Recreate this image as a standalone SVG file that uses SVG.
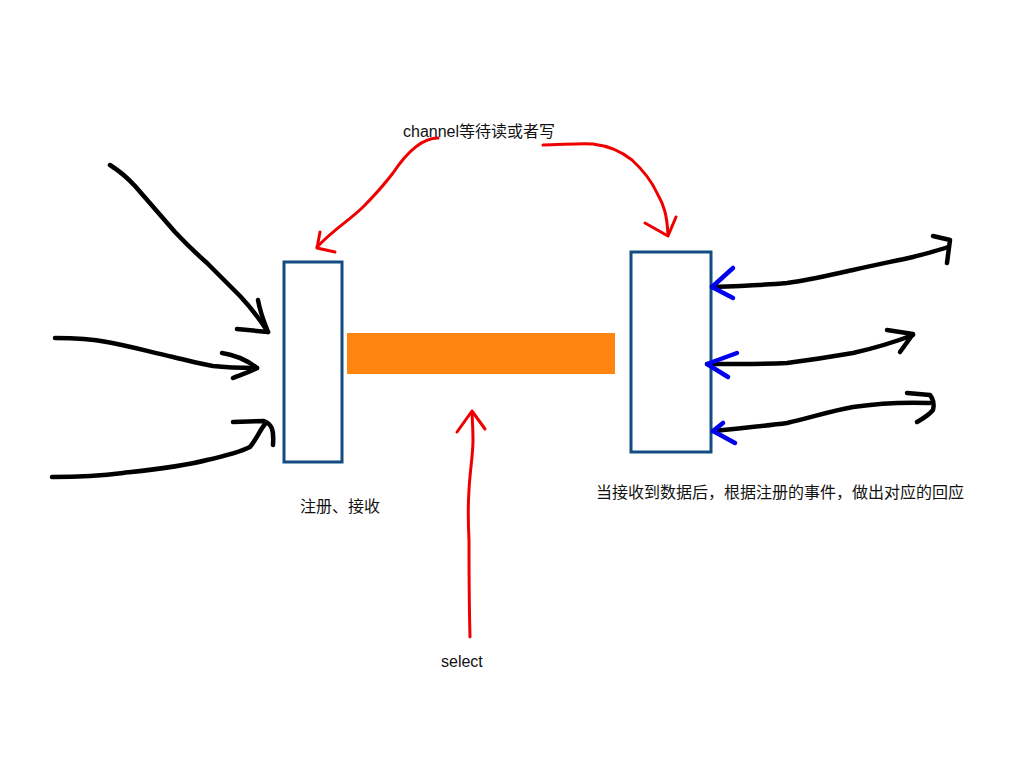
<svg xmlns="http://www.w3.org/2000/svg" width="1024" height="768" viewBox="0 0 1024 768">
<style>
.box{fill:#fff;stroke:#124c82;stroke-width:3}
.bar{fill:#ff8410}
.blk{fill:none;stroke:#000;stroke-width:4.5;stroke-linecap:round;stroke-linejoin:round}
.red{fill:none;stroke:#ee0000;stroke-width:3;stroke-linecap:round;stroke-linejoin:round}
.blu{fill:none;stroke:#0000ee;stroke-width:4.5;stroke-linecap:round;stroke-linejoin:round}
text{font-family:"Liberation Sans","Noto Sans CJK SC",sans-serif;font-size:16px;fill:#111}
</style>
<rect width="1024" height="768" fill="#fff"/>
<g id="left-box"><rect class="box" x="284" y="262" width="58" height="200"/></g>
<g id="right-box"><rect class="box" x="631" y="252" width="80" height="200"/></g>
<g id="select-bar"><rect class="bar" x="347" y="333" width="268" height="41"/></g>
<g id="labels">
<text x="403" y="137">channel等待读或者写</text>
<text x="300" y="512">注册、接收</text>
<text x="596" y="498">当接收到数据后，根据注册的事件，做出对应的回应</text>
<text x="441" y="667">select</text>
</g>
<g id="connectors">
<path class="red" d="M438,138 C420,138 405,155 393,173 C380,190 370,200 363,207 C350,220 335,228 317,247"/>
<path class="red" d="M320,232 L317,248 L335,252"/>
<path class="red" d="M543,145 C560,145 578,143 593,144 C610,146 622,152 632,160 C645,172 652,182 657,193 C664,205 667,215 668,235"/>
<path class="red" d="M645,223 L668,236 L676,217"/>
<path class="red" d="M470,637 C469,600 469,560 469,540 C468,520 468,505 469,490 C470,470 473,455 473,440 C473,425 472,418 472,412"/>
<path class="red" d="M457,432 L472,411 L485,429"/>
<path class="blk" d="M110,165 Q124,174 135,186 L175,232 Q190,248 207,263 L240,296 Q255,312 268,332"/>
<path class="blk" d="M258,300 C260,312 264,322 268,332 L237,329"/>
<path class="blk" d="M55,338 C75,338 92,339 107,342 C130,346 150,352 173,357 C190,361 200,364 213,366 C230,368 245,368 257,368"/>
<path class="blk" d="M222,353 C235,355 247,360 257,368 C250,372 240,375 233,378"/>
<path class="blk" d="M52,477 C80,477 100,476 123,473 C150,470 180,467 207,460 C225,456 240,452 250,447 C256,440 260,430 265,424"/>
<path class="blk" d="M233,422 L264,421 C272,424 274,430 273,445"/>
<path class="blk" d="M712,287 C740,286 765,285 787,283 C810,280 830,275 853,270 C875,265 895,261 913,257 C928,253 940,250 948,247"/>
<path class="blk" d="M933,236 L950,240 L947,263"/>
<path class="blu" d="M733,268 L712,287 L733,298"/>
<path class="blk" d="M707,364 C740,364 765,364 787,363 C810,360 830,357 853,353 C875,348 895,342 913,335"/>
<path class="blk" d="M887,330 L913,334 L900,352"/>
<path class="blu" d="M737,353 L707,364 L728,377"/>
<path class="blk" d="M713,431 C740,428 765,426 787,423 C810,418 830,411 853,407 C880,403 905,402 930,403"/>
<path class="blk" d="M907,393 L930,395 C934,400 934,406 933,410 C928,416 922,419 917,422"/>
<path class="blu" d="M723,423 L713,431 L735,443"/>
</g>
</svg>
